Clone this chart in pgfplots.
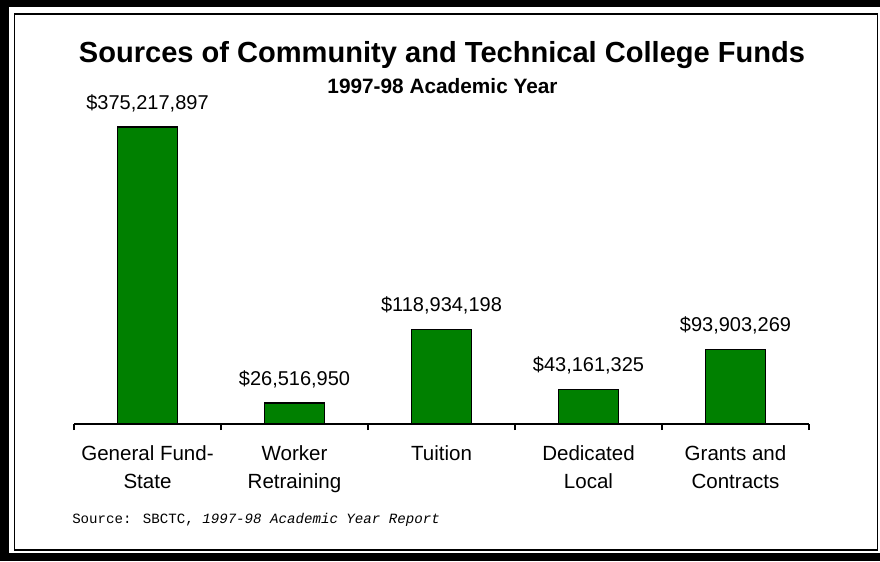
\documentclass[border=0pt]{standalone}
\usepackage{pgfplots}
\pgfplotsset{compat=1.18}
\usepackage{fontspec}
\setmainfont{Liberation Sans}
\newfontfamily\monofont{Liberation Mono}
\definecolor{barGreen}{RGB}{0,128,0}

\begin{document}
\begin{tikzpicture}[x=1pt,y=1pt]
% picture units: 1px of the reference = 0.75pt, axis origin at px (74,424)
\path[use as bounding box] (-55.5,-102.75) rectangle (604.5,318);
% frame
\fill[black] (-55.5,318) rectangle (604.5,312.75);
\fill[black] (-55.5,318) rectangle (-48.75,-102.75);
\fill[black] (-55.5,-96.75) rectangle (604.5,-102.75);
\draw[black, line width=0.9pt] (-44.6,307.5) rectangle (602.4,-94.5);

\begin{axis}[
    at={(0,0)}, anchor=south west,
    scale only axis,
    width=551.25pt, height=222.75pt,
    xmin=-0.5, xmax=4.5, ymin=0, ymax=375217897,
    enlargelimits=false,
    clip=false,
    axis x line=bottom, axis y line=none,
    x axis line style={-, line width=1.1pt},
    ybar, bar width=44.6pt,
    xtick={0,1,2,3,4},
    xticklabels={{General Fund-\\State},{Worker\\Retraining},{Tuition},{Dedicated\\Local},{Grants and\\Contracts}},
    minor xtick={-0.5,0.5,1.5,2.5,3.5,4.5},
    major tick length=0pt, minor tick length=4.5pt,
    tick align=outside,
    minor tick style={line width=1.1pt, black},
    xticklabel style={font=\fontsize{15.4}{21}\selectfont, align=center, yshift=-12.5pt},
    point meta=explicit symbolic,
    nodes near coords={\pgfplotspointmeta},
    every node near coord/.append style={font=\fontsize{15}{17}\selectfont, anchor=center, yshift=18pt},
]
\addplot[fill=barGreen, draw=black, line width=0.9pt] coordinates {
    (0,375217897) [\$375,217,897]
    (1,26516950)  [\$26,516,950]
    (2,118934198) [\$118,934,198]
    (3,43161325)  [\$43,161,325]
    (4,93903269)  [\$93,903,269]
};
\end{axis}

\node[font=\bfseries\fontsize{21.8}{26}\selectfont] at (276,276.75) {Sources of Community and Technical College Funds};
\node[font=\bfseries\fontsize{15.6}{18}\selectfont] at (276.4,253.5) {1997-98 Academic Year};
\node[anchor=west, inner sep=0pt, font=\monofont\fontsize{10.6}{12}\selectfont] at (-1.5,-72) {Source: SBCTC, \textit{1997-98 Academic Year Report}};
\end{tikzpicture}
\end{document}
